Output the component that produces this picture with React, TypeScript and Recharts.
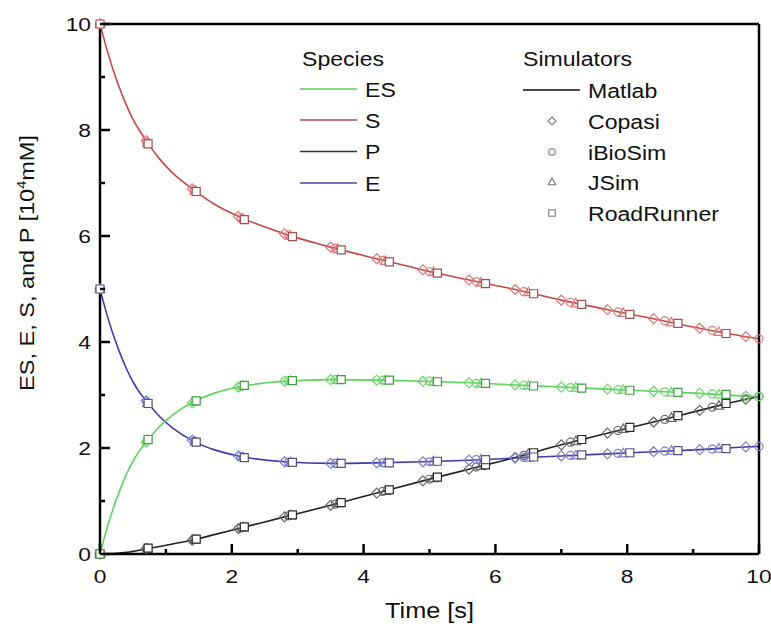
import React from 'react';
import { LineChart, Line, XAxis, YAxis } from 'recharts';

// ---------- data ----------
const matlabTime = [0, 0.1, 0.2, 0.3, 0.4, 0.5, 0.6, 0.7, 0.9, 1.1, 1.4, 1.75, 2.1, 2.8, 3.5, 4.2, 4.9, 5.6, 6.3, 7.0, 7.7, 8.4, 9.1, 9.8, 10];
const matlabS = [10, 9.54, 9.13, 8.78, 8.47, 8.2, 7.99, 7.8, 7.46, 7.19, 6.89, 6.59, 6.37, 6.04, 5.79, 5.57, 5.36, 5.17, 4.99, 4.79, 4.61, 4.44, 4.26, 4.1, 4.06];
const matlabES = [0, 0.46, 0.86, 1.2, 1.5, 1.75, 1.95, 2.11, 2.4, 2.62, 2.86, 3.04, 3.15, 3.26, 3.29, 3.28, 3.26, 3.23, 3.19, 3.15, 3.11, 3.07, 3.03, 2.98, 2.97];
const matlabE = [5, 4.54, 4.14, 3.8, 3.5, 3.25, 3.05, 2.89, 2.6, 2.38, 2.14, 1.96, 1.85, 1.74, 1.71, 1.72, 1.74, 1.77, 1.81, 1.85, 1.89, 1.93, 1.97, 2.02, 2.03];
const matlabP = [0, 0.002, 0.01, 0.02, 0.03, 0.05, 0.07, 0.1, 0.14, 0.19, 0.26, 0.37, 0.48, 0.7, 0.92, 1.15, 1.38, 1.6, 1.82, 2.06, 2.28, 2.49, 2.71, 2.92, 2.97];

const copasiTime = [0, 0.7, 1.4, 2.1, 2.8, 3.5, 4.2, 4.9, 5.6, 6.3, 7.0, 7.7, 8.4, 9.1, 9.8];
const copasiS = [10, 7.8, 6.89, 6.37, 6.04, 5.79, 5.57, 5.36, 5.17, 4.99, 4.79, 4.61, 4.44, 4.26, 4.1];
const copasiES = [0, 2.11, 2.85, 3.15, 3.26, 3.29, 3.28, 3.26, 3.23, 3.19, 3.15, 3.11, 3.07, 3.03, 2.98];
const copasiE = [5, 2.89, 2.15, 1.85, 1.74, 1.71, 1.72, 1.74, 1.77, 1.81, 1.85, 1.89, 1.93, 1.97, 2.02];
const copasiP = [0, 0.1, 0.26, 0.48, 0.7, 0.92, 1.15, 1.38, 1.6, 1.82, 2.06, 2.28, 2.49, 2.71, 2.92];

const ibiosimTime = [0, 0.71, 1.43, 2.14, 2.86, 3.57, 4.29, 5.0, 5.71, 6.43, 7.14, 7.86, 8.57, 9.29, 10];
const ibiosimS = [10, 7.77, 6.87, 6.34, 6.02, 5.77, 5.54, 5.33, 5.14, 4.95, 4.75, 4.57, 4.4, 4.22, 4.06];
const ibiosimES = [0, 2.13, 2.87, 3.16, 3.27, 3.29, 3.28, 3.26, 3.22, 3.18, 3.14, 3.1, 3.06, 3.02, 2.97];
const ibiosimE = [5, 2.87, 2.13, 1.84, 1.73, 1.71, 1.72, 1.74, 1.78, 1.82, 1.86, 1.9, 1.94, 1.98, 2.03];
const ibiosimP = [0, 0.1, 0.27, 0.49, 0.72, 0.94, 1.18, 1.41, 1.64, 1.86, 2.11, 2.33, 2.54, 2.77, 2.97];

const jsimTime = [0, 0.72, 1.44, 2.17, 2.89, 3.61, 4.33, 5.06, 5.78, 6.5, 7.22, 7.94, 8.67, 9.39];
const jsimS = [10, 7.76, 6.85, 6.33, 6.0, 5.75, 5.53, 5.32, 5.12, 4.94, 4.73, 4.55, 4.37, 4.19];
const jsimES = [0, 2.15, 2.88, 3.17, 3.27, 3.29, 3.28, 3.25, 3.22, 3.18, 3.14, 3.1, 3.05, 3.01];
const jsimE = [5, 2.85, 2.12, 1.83, 1.73, 1.71, 1.72, 1.75, 1.78, 1.82, 1.86, 1.9, 1.95, 1.99];
const jsimP = [0, 0.1, 0.27, 0.5, 0.73, 0.96, 1.19, 1.43, 1.66, 1.89, 2.13, 2.36, 2.57, 2.8];

const rrTime = [0, 0.73, 1.46, 2.19, 2.92, 3.66, 4.39, 5.12, 5.85, 6.58, 7.31, 8.04, 8.77, 9.5];
const rrS = [10, 7.74, 6.84, 6.31, 5.99, 5.74, 5.51, 5.3, 5.1, 4.91, 4.71, 4.52, 4.35, 4.16];
const rrES = [0, 2.16, 2.89, 3.18, 3.27, 3.29, 3.28, 3.25, 3.22, 3.17, 3.13, 3.09, 3.05, 3.01];
const rrE = [5, 2.84, 2.11, 1.82, 1.73, 1.71, 1.72, 1.75, 1.78, 1.83, 1.87, 1.91, 1.95, 1.99];
const rrP = [0, 0.11, 0.28, 0.51, 0.74, 0.97, 1.21, 1.45, 1.68, 1.91, 2.16, 2.39, 2.61, 2.84];

const axisTicks = [0, 1, 2, 3, 4, 5, 6, 7, 8, 9, 10];
const speciesNames = ['ES', 'S', 'P', 'E'];
const simulatorNames = ['Matlab', 'Copasi', 'iBioSim', 'JSim', 'RoadRunner'];

// ---------- styling ----------
const FONT = '"Liberation Sans", Arial, Helvetica, sans-serif';
const PL = 100, PR = 759, PT = 24, PB = 554;
const W = 771, H = 626;

const lineColor: Record<string, string> = { S: '#c84848', ES: '#5ad45a', E: '#3c3cae', P: '#222222' };
const markColor: Record<string, string> = { S: '#de7a7a', ES: '#6ad86a', E: '#7e7ed0', P: '#6a6a6a' };
const squareColor: Record<string, string> = { S: '#a05050', ES: '#3f9f3f', E: '#55557a', P: '#2a2a2a' };
const legendLineColor: Record<string, string> = { ES: '#5ad45a', S: '#b04858', P: '#333333', E: '#4a4a98' };

const rows = (ts: number[], ys: number[]) => ts.map((t, i) => ({ t, y: ys[i] }));

type Shape = 'diamond' | 'circle' | 'triangle' | 'square';

const shapePath = (shape: Shape, cx: number, cy: number, r: number) => {
  switch (shape) {
    case 'diamond':
      return `M${cx},${cy - r}L${cx + r},${cy}L${cx},${cy + r}L${cx - r},${cy}Z`;
    case 'triangle':
      return `M${cx},${cy - r}L${cx + r * 0.95},${cy + r * 0.7}L${cx - r * 0.95},${cy + r * 0.7}Z`;
    case 'square':
      return `M${cx - r * 0.8},${cy - r * 0.8}h${r * 1.6}v${r * 1.6}h${-r * 1.6}Z`;
    default:
      return '';
  }
};

const makeDot = (shape: Shape, color: string, id: string, fill: string) => (p: any) => {
  const { cx, cy, index } = p;
  if (cx == null || cy == null) return <g key={`${id}-${index}`} />;
  if (shape === 'circle') {
    return <circle key={`${id}-${index}`} cx={cx} cy={cy} r={4} fill={fill} stroke={color} strokeWidth={1.2} />;
  }
  return <path key={`${id}-${index}`} d={shapePath(shape, cx, cy, 5)} fill={fill} stroke={color} strokeWidth={1.2} />;
};

const BottomTick = (p: any) => {
  const v = p.payload.value;
  const major = v % 2 === 0;
  return (
    <g>
      <line x1={p.x} x2={p.x} y1={PB} y2={PB - (major ? 10 : 5)} stroke="#000" strokeWidth={2.5} />
      {major && (
        <text transform={`translate(${p.x},${PB + 29}) scale(1.2,1)`} textAnchor="middle" fontSize={19} fontFamily={FONT} fill="#111">{v}</text>
      )}
    </g>
  );
};
const TopTick = (p: any) => {
  const v = p.payload.value;
  const major = v % 2 === 0;
  return <line x1={p.x} x2={p.x} y1={PT} y2={PT + (major ? 10 : 5)} stroke="#000" strokeWidth={2.5} />;
};
const LeftTick = (p: any) => {
  const v = p.payload.value;
  const major = v % 2 === 0;
  return (
    <g>
      <line x1={PL} x2={PL + (major ? 10 : 5)} y1={p.y} y2={p.y} stroke="#000" strokeWidth={2.5} />
      {major && (
        <text transform={`translate(${PL - 9},${p.y + 7}) scale(1.2,1)`} textAnchor="end" fontSize={19} fontFamily={FONT} fill="#111">{v}</text>
      )}
    </g>
  );
};
const RightTick = (p: any) => {
  const v = p.payload.value;
  const major = v % 2 === 0;
  return <line x1={PR} x2={PR - (major ? 10 : 5)} y1={p.y} y2={p.y} stroke="#000" strokeWidth={2.5} />;
};

const speciesData: Record<string, { matlab: number[]; copasi: number[]; ibiosim: number[]; jsim: number[]; rr: number[] }> = {
  S: { matlab: matlabS, copasi: copasiS, ibiosim: ibiosimS, jsim: jsimS, rr: rrS },
  ES: { matlab: matlabES, copasi: copasiES, ibiosim: ibiosimES, jsim: jsimES, rr: rrES },
  E: { matlab: matlabE, copasi: copasiE, ibiosim: ibiosimE, jsim: jsimE, rr: rrE },
  P: { matlab: matlabP, copasi: copasiP, ibiosim: ibiosimP, jsim: jsimP, rr: rrP },
};

const drawOrder = ['P', 'E', 'ES', 'S'];

export default function App() {
  const lines: React.ReactNode[] = [];
  drawOrder.forEach((sp) => {
    lines.push(
      <Line key={`m-${sp}`} xAxisId="b" yAxisId="l" data={rows(matlabTime, speciesData[sp].matlab)} dataKey="y" type="monotone"
        stroke={lineColor[sp]} strokeWidth={1.6} dot={false} activeDot={false} isAnimationActive={false} />
    );
  });
  const sims: { id: 'copasi' | 'ibiosim' | 'jsim' | 'rr'; time: number[]; shape: Shape }[] = [
    { id: 'copasi', time: copasiTime, shape: 'diamond' },
    { id: 'ibiosim', time: ibiosimTime, shape: 'circle' },
    { id: 'jsim', time: jsimTime, shape: 'triangle' },
    { id: 'rr', time: rrTime, shape: 'square' },
  ];
  sims.forEach((sim) => {
    drawOrder.forEach((sp) => {
      const col = sim.shape === 'square' ? squareColor[sp] : markColor[sp];
      const fill = sim.shape === 'square' ? '#ffffff' : 'none';
      lines.push(
        <Line key={`${sim.id}-${sp}`} xAxisId="b" yAxisId="l" data={rows(sim.time, speciesData[sp][sim.id])} dataKey="y"
          stroke="none" strokeOpacity={0} dot={makeDot(sim.shape, col, `${sim.id}-${sp}`, fill)} activeDot={false} isAnimationActive={false} />
      );
    });
  });

  const legendRowY = [89, 120, 151.5, 183];
  const simRowY = [90, 121, 152, 182, 213];
  const legendFont = 21;
  const base = (cy: number) => cy + 7.5;
  const simShapes: (Shape | 'line')[] = ['line', 'diamond', 'circle', 'triangle', 'square'];

  return (
    <div style={{ position: 'absolute', left: 0, top: 0, width: W, height: H, background: '#fff' }}>
      <LineChart width={W} height={H} margin={{ top: PT - 1, right: W - PR - 1, bottom: H - PB - 1, left: PL - 1 }}>
        <XAxis xAxisId="b" type="number" dataKey="t" domain={[0, 10]} ticks={axisTicks} interval={0} height={1}
          axisLine={{ stroke: '#000', strokeWidth: 2.5 }} tickLine={false} tick={(p: any) => <BottomTick {...p} />} />
        <XAxis xAxisId="t" orientation="top" type="number" dataKey="t" domain={[0, 10]} ticks={axisTicks} interval={0} height={1}
          axisLine={{ stroke: '#000', strokeWidth: 2.5 }} tickLine={false} tick={(p: any) => <TopTick {...p} />} />
        <YAxis yAxisId="l" type="number" domain={[0, 10]} ticks={axisTicks} interval={0} width={1}
          axisLine={{ stroke: '#000', strokeWidth: 2.5 }} tickLine={false} tick={(p: any) => <LeftTick {...p} />} />
        <YAxis yAxisId="r" orientation="right" type="number" domain={[0, 10]} ticks={axisTicks} interval={0} width={1}
          axisLine={{ stroke: '#000', strokeWidth: 2.5 }} tickLine={false} tick={(p: any) => <RightTick {...p} />} />
        {lines}
      </LineChart>
      <svg width={W} height={H} style={{ position: 'absolute', left: 0, top: 0, pointerEvents: 'none' }}>
        <text transform={`translate(${(PL + PR) / 2},618) scale(1.15,1)`} textAnchor="middle" fontSize={22} fontFamily={FONT} fill="#111">Time [s]</text>
        <text transform="translate(34,263) rotate(-90) scale(1.12,1)" textAnchor="middle" fontSize={21} fontFamily={FONT} fill="#111">
          ES, E, S, and P [10<tspan dy={-8} fontSize={13}>4</tspan><tspan dy={8}>mM]</tspan>
        </text>
        <text transform={`translate(302,${base(58)}) scale(1.1,1)`} fontSize={legendFont} fontFamily={FONT} fill="#111">Species</text>
        {speciesNames.map((n, i) => (
          <g key={n}>
            <line x1={300} x2={357} y1={legendRowY[i]} y2={legendRowY[i]} stroke={legendLineColor[n]} strokeWidth={1.6} />
            <text transform={`translate(365,${base(legendRowY[i])}) scale(1.1,1)`} fontSize={legendFont} fontFamily={FONT} fill="#111">{n}</text>
          </g>
        ))}
        <text transform={`translate(523,${base(58)}) scale(1.1,1)`} fontSize={legendFont} fontFamily={FONT} fill="#111">Simulators</text>
        {simulatorNames.map((n, i) => {
          const cy = simRowY[i];
          const s = simShapes[i];
          let sym: React.ReactNode;
          if (s === 'line') sym = <line x1={523} x2={580} y1={cy} y2={cy} stroke="#111" strokeWidth={1.6} />;
          else if (s === 'circle') sym = <circle cx={552} cy={cy} r={3.3} fill="none" stroke="#777" strokeWidth={1.1} />;
          else sym = <path d={shapePath(s, 552, cy, 4)} fill="none" stroke="#777" strokeWidth={1.1} />;
          return (
            <g key={n}>
              {sym}
              <text transform={`translate(588,${base(cy)}) scale(1.1,1)`} fontSize={legendFont} fontFamily={FONT} fill="#111">{n}</text>
            </g>
          );
        })}
      </svg>
    </div>
  );
}
